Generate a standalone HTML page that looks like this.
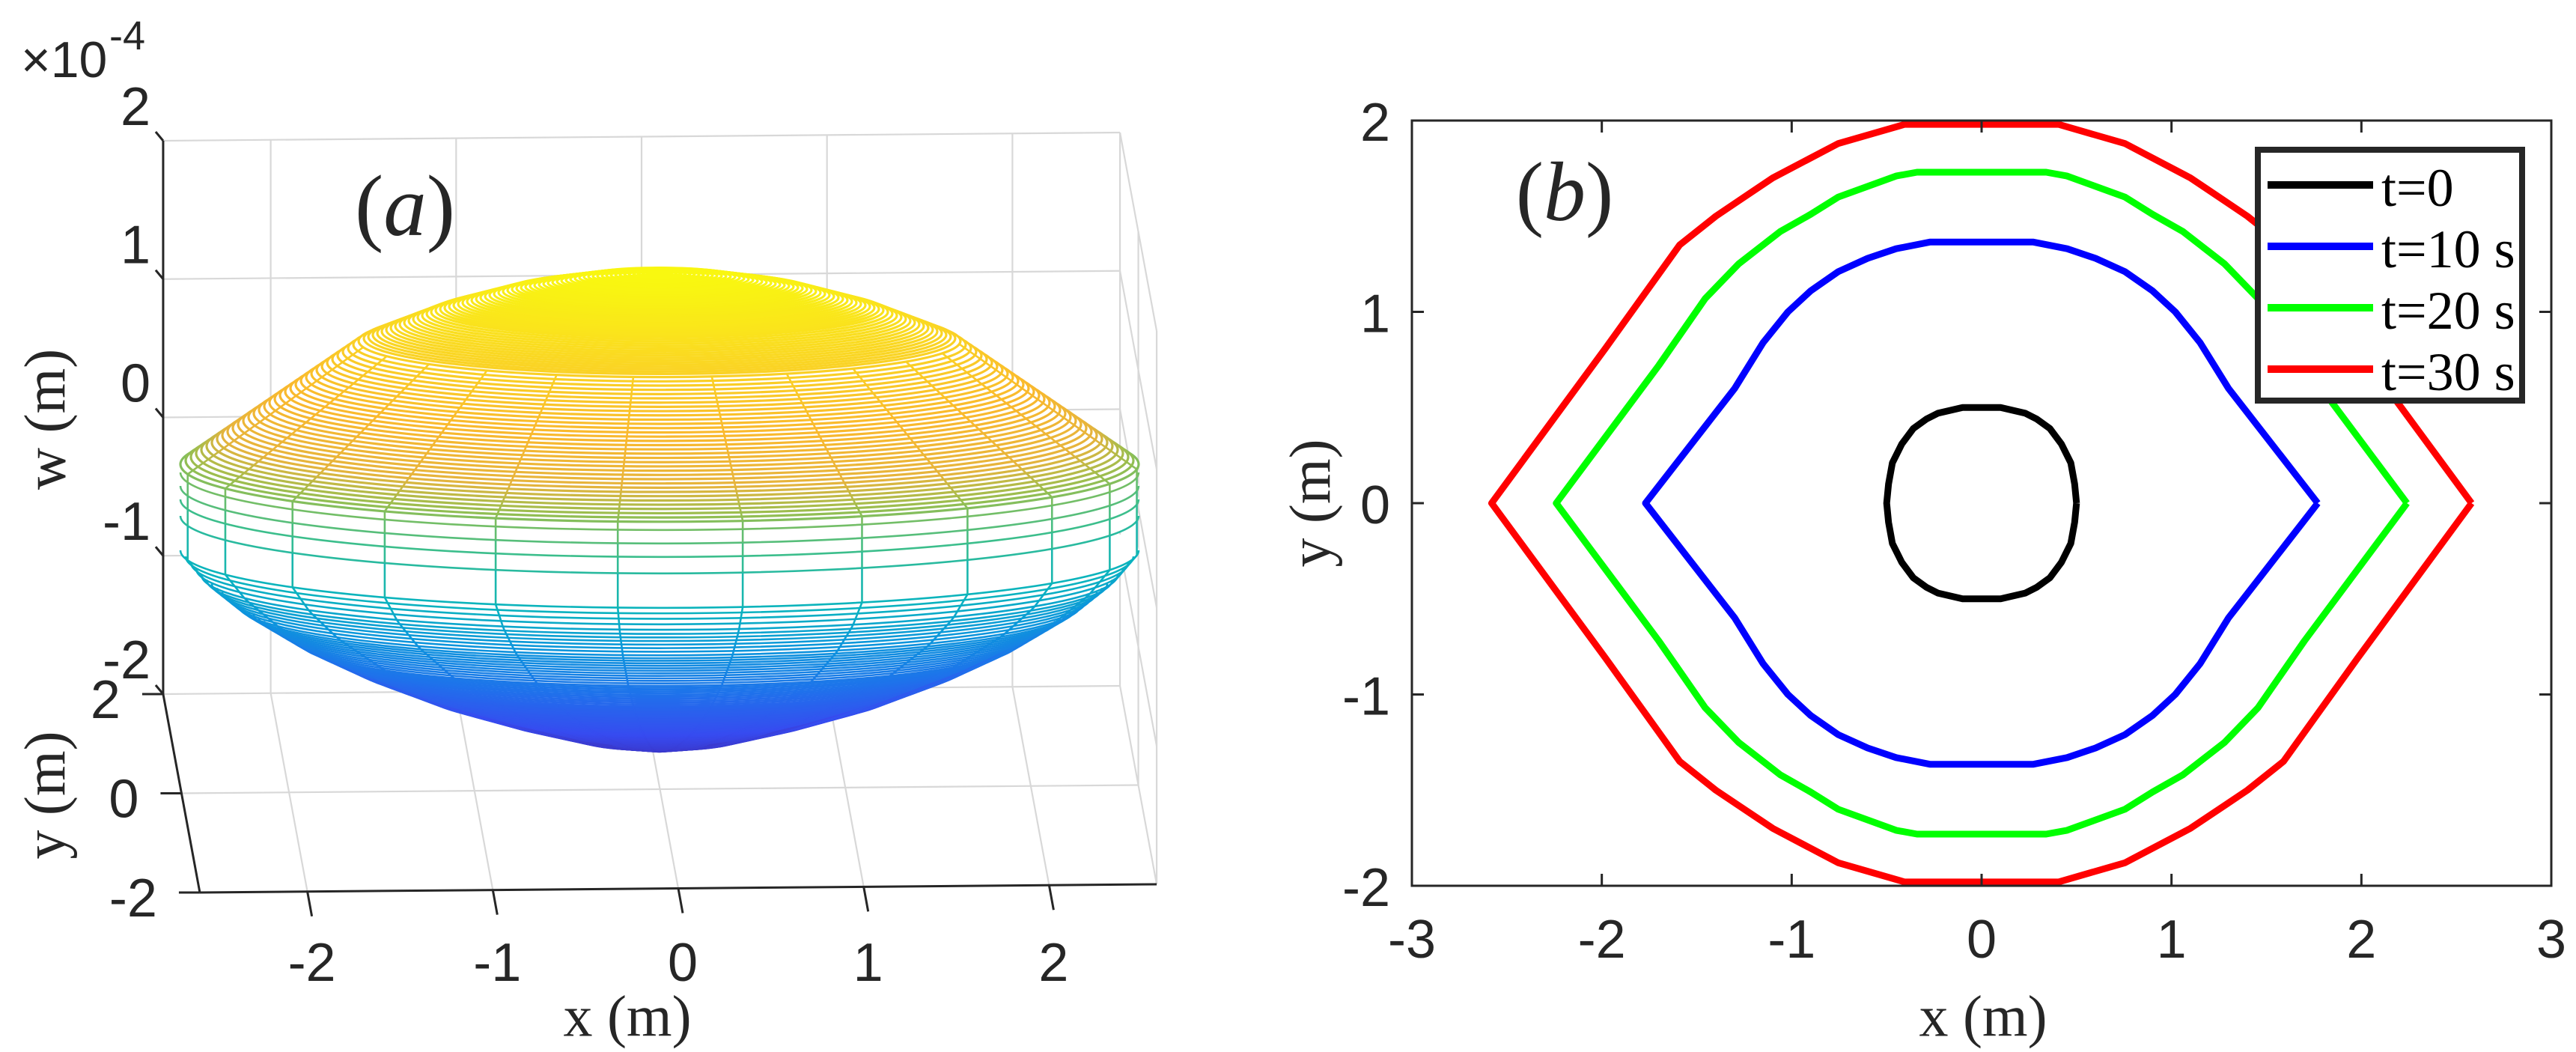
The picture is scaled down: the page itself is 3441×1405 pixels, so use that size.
<!DOCTYPE html>
<html><head><meta charset="utf-8"><style>
html,body{margin:0;padding:0;background:#fff;}
svg{display:block;}
</style></head><body>
<svg id="fig" width="3441" height="1405" viewBox="0 0 3441 1405" xmlns="http://www.w3.org/2000/svg">
<g id="panelA"></g>
<g id="panelB"></g>
</svg>
<script>
// ---------- Panel (b) data ----------
const xTicksB = [-3,-2,-1,0,1,2,3];
const yTicksB = [-2,-1,0,1,2];
const legendLabels = ["t=0","t=10 s","t=20 s","t=30 s"];
const seriesColors = ["#000000","#0000ff","#00ff00","#ff0000"];
const black_x = [0.50,0.49,0.47,0.42,0.36,0.29,0.23,0.10,-0.10,-0.23,-0.29,-0.36,-0.42,-0.47,-0.49,-0.50,-0.49,-0.47,-0.42,-0.36,-0.29,-0.23,-0.10,0.10,0.23,0.29,0.36,0.42,0.47,0.49,0.50];
const black_y = [0,0.10,0.21,0.31,0.39,0.44,0.47,0.50,0.50,0.47,0.44,0.39,0.31,0.21,0.10,0,-0.10,-0.21,-0.31,-0.39,-0.44,-0.47,-0.50,-0.50,-0.47,-0.44,-0.39,-0.31,-0.21,-0.10,0];
const blue_x = [1.77,1.30,1.15,1.02,0.90,0.755,0.60,0.45,0.27,-0.27,-0.45,-0.60,-0.755,-0.90,-1.02,-1.15,-1.30,-1.77,-1.30,-1.15,-1.02,-0.90,-0.755,-0.60,-0.45,-0.27,0.27,0.45,0.60,0.755,0.90,1.02,1.15,1.30,1.77];
const blue_y = [0,0.60,0.84,1.00,1.11,1.21,1.28,1.33,1.365,1.365,1.33,1.28,1.21,1.11,1.00,0.84,0.60,0,-0.60,-0.84,-1.00,-1.11,-1.21,-1.28,-1.33,-1.365,-1.365,-1.33,-1.28,-1.21,-1.11,-1.00,-0.84,-0.60,0];
const green_x = [2.24,1.70,1.455,1.28,1.06,0.90,0.755,0.45,0.34,-0.34,-0.45,-0.755,-0.90,-1.06,-1.28,-1.455,-1.70,-2.24,-1.70,-1.455,-1.28,-1.06,-0.90,-0.755,-0.45,-0.34,0.34,0.45,0.755,0.90,1.06,1.28,1.455,1.70,2.24];
const green_y = [0,0.72,1.07,1.25,1.42,1.51,1.60,1.71,1.73,1.73,1.71,1.60,1.51,1.42,1.25,1.07,0.72,0,-0.72,-1.07,-1.25,-1.42,-1.51,-1.60,-1.71,-1.73,-1.73,-1.71,-1.60,-1.51,-1.42,-1.25,-1.07,-0.72,0];
const red_x = [2.58,1.98,1.72,1.59,1.40,1.28,1.10,0.755,0.405,-0.405,-0.755,-1.10,-1.28,-1.40,-1.59,-1.72,-1.98,-2.58,-1.98,-1.72,-1.59,-1.40,-1.28,-1.10,-0.755,-0.405,0.405,0.755,1.10,1.28,1.40,1.59,1.72,1.98,2.58];
const red_y = [0,0.81,1.17,1.35,1.50,1.58,1.70,1.88,1.98,1.98,1.88,1.70,1.58,1.50,1.35,1.17,0.81,0,-0.81,-1.17,-1.35,-1.50,-1.58,-1.70,-1.88,-1.98,-1.98,-1.88,-1.70,-1.58,-1.50,-1.35,-1.17,-0.81,0];

// ---------- Panel (a) data ----------
const zTicksA = ["2","1","0","-1","-2"];
const yTicksA = ["2","0","-2"];
const xTicksA = [-2,-1,0,1,2];
const profA   = [0,100,200,300,400,520,640];
const profUp  = [364,369.6,386.5,414.6,454,537,620];
const profLoA = [0,100,200,300,400,480,560,610,640];
const profLo  = [1004,990,965,935,896,858,810,770,735];
const waistYc = [631,649,667,689];
const colYc = [358,454,520,580,620,690,738,800,900,1006];
const colV  = [1.0,0.86,0.78,0.70,0.58,0.46,0.40,0.30,0.16,0.04];

const NS="http://www.w3.org/2000/svg";
const SANS='"Liberation Sans", Arial, sans-serif';
const SERIF='"Liberation Serif", "Times New Roman", serif';
function mk(parent,tag,attrs){const e=document.createElementNS(NS,tag);for(const k in attrs)e.setAttribute(k,attrs[k]);parent.appendChild(e);return e;}
function txt(parent,attrs,serif){const e=mk(parent,'text',attrs);e.setAttribute('font-family',serif?SERIF:SANS);e.style.fontFamily=serif?SERIF:SANS;if(!attrs.fill)e.setAttribute('fill','#262626');return e;}
function interp(xs,ys,x){for(let i=0;i<xs.length-1;i++){const a=xs[i],b=xs[i+1];if((x>=a&&x<=b)||(x<=a&&x>=b)){const t=(x-a)/(b-a);return ys[i]+t*(ys[i+1]-ys[i]);}}return x<xs[0]?ys[0]:ys[ys.length-1];}

// ================= Panel B =================
(function(){
const g=document.getElementById('panelB');
const L=1886,R=3408,T=161,B=1183;
const sx=v=>L+(v+3)/6*(R-L);
const sy=v=>B-(v+2)/4*(B-T);
const plot=mk(g,'g',{});


const series=[[black_x,black_y],[blue_x,blue_y],[green_x,green_y],[red_x,red_y]];
const names=['curve-t0','curve-t10','curve-t20','curve-t30'];
series.forEach((s,i)=>{
  const d=s[0].map((x,j)=>(j?'L':'M')+sx(x).toFixed(1)+' '+sy(s[1][j]).toFixed(1)).join(' ');
  const p=mk(plot,'path',{d:d,fill:'none',stroke:seriesColors[i],'stroke-width':9,'stroke-linejoin':'round'});
  
  
});
const box=mk(g,'rect',{x:L,y:T,width:R-L,height:B-T,fill:'none',stroke:'#262626','stroke-width':3});


xTicksB.forEach(v=>{
  const x=sx(v);
  mk(g,'line',{x1:x,y1:B,x2:x,y2:B-16,stroke:'#262626','stroke-width':3});
  mk(g,'line',{x1:x,y1:T,x2:x,y2:T+16,stroke:'#262626','stroke-width':3});
  const t=txt(g,{x:x,y:1255,'text-anchor':'middle','dominant-baseline':'central','font-size':72});
  t.textContent=String(v);
  
  
});
yTicksB.forEach(v=>{
  const y=sy(v);
  mk(g,'line',{x1:L,y1:y,x2:L+16,y2:y,stroke:'#262626','stroke-width':3});
  mk(g,'line',{x1:R,y1:y,x2:R-16,y2:y,stroke:'#262626','stroke-width':3});
  const t=txt(g,{x:1857,y:y+3,'text-anchor':'end','dominant-baseline':'central','font-size':72});
  t.textContent=String(v);
  
  
});
let t=txt(g,{x:2649,y:1357,'text-anchor':'middle','dominant-baseline':'central','font-size':78},true);
t.textContent='x (m)';


t=txt(g,{x:1750,y:672,'text-anchor':'middle','dominant-baseline':'central','font-size':78,transform:'rotate(-90 1750 672)'},true);
t.textContent='y (m)';


t=txt(g,{x:2090,y:257,'text-anchor':'middle','dominant-baseline':'central','font-size':112},true);
t.innerHTML='(<tspan font-style="italic">b</tspan>)';


const lg=mk(g,'g',{});


mk(lg,'rect',{x:3016,y:200,width:353,height:335,fill:'#fff',stroke:'#262626','stroke-width':8});
legendLabels.forEach((lab,i)=>{
  const y=247+i*82;
  const e=mk(lg,'g',{});
  
  
  mk(e,'line',{x1:3029,y1:y,x2:3170,y2:y,stroke:seriesColors[i],'stroke-width':10});
  const tt=txt(e,{x:3181,y:y+4,'dominant-baseline':'central','font-size':72,fill:'#000'},true);
  tt.textContent=lab;
});
})();

// ================= Panel A =================
(function(){
const g=document.getElementById('panelA');
const O=[881.5,684.5], ex=[247.7,-2.13], ey=[-12.25,-66.25], ez=[0,-184.75];
const XL=2.58;
const P=(x,y,z)=>[O[0]+x*ex[0]+y*ey[0]+z*ez[0], O[1]+x*ex[1]+y*ey[1]+z*ez[1]];
const grid=mk(g,'g',{stroke:'#d8d8d8','stroke-width':2.2,fill:'none'});


const ln=(p,q,par,attrs)=>mk(par||grid,'line',Object.assign({x1:p[0],y1:p[1],x2:q[0],y2:q[1]},attrs||{}));
xTicksA.forEach(x=>ln(P(x,2,-2),P(x,2,2)));
[-1,0,1].forEach(z=>ln(P(-XL,2,z),P(XL,2,z)));
ln(P(-XL,2,2),P(XL,2,2));ln(P(XL,2,-2),P(XL,2,2));ln(P(-XL,2,-2),P(XL,2,-2));
xTicksA.forEach(x=>ln(P(x,-2,-2),P(x,2,-2)));
ln(P(-XL,0,-2),P(XL,0,-2));
[-1,0,1].forEach(z=>ln(P(XL,-2,z),P(XL,2,z)));
ln(P(XL,0,-2),P(XL,0,2));
ln(P(XL,-2,2),P(XL,2,2));ln(P(XL,-2,-2),P(XL,-2,2));ln(P(XL,-2,-2),P(XL,2,-2));

const surf=mk(g,'g',{});


const cx=881, k=0.12;
const stops=[[0,62,38,168],[0.1,55,75,240],[0.2,30,115,235],[0.3,12,150,220],[0.4,10,180,190],[0.5,60,190,140],[0.6,150,190,80],[0.7,230,180,60],[0.78,250,185,45],[0.88,250,215,35],[1,249,251,14]];
function parula(v){v=Math.max(0,Math.min(1,v));for(let i=0;i<stops.length-1;i++){if(v<=stops[i+1][0]){const t=(v-stops[i][0])/(stops[i+1][0]-stops[i][0]);const c=[1,2,3].map(j=>Math.round(stops[i][j]+t*(stops[i+1][j]-stops[i][j])));return 'rgb('+c.join(',')+')';}}return 'rgb(249,251,14)';}
const colOf=yc=>parula(interp(colYc,colV,yc));
const upper=[],lower=[];
for(let a=640;a>=4;a-=(a>400?7:6)) upper.push([a,interp(profA,profUp,a)]);
for(let a=4;a<=640;a+=(a<300?5:7)) lower.push([a,interp(profLoA,profLo,a)]);
const waist=waistYc.map(y=>[640,y]);
const body=mk(surf,'g',{fill:'#fff',stroke:'none'});
upper.concat(lower,waist).forEach(r=>mk(body,'ellipse',{cx:cx,cy:r[1],rx:r[0],ry:k*r[0]}));
const arc=(r)=>{const a=r[0],y=r[1];return 'M'+(cx-a)+' '+y+' A'+a+' '+(k*a)+' 0 0 0 '+(cx+a)+' '+y;};
lower.concat(waist).forEach(r=>{
  mk(surf,'path',{d:arc(r),fill:'none',stroke:colOf(r[1]),'stroke-width':2.6});
});
const merRings=upper.filter(r=>r[0]>=400).concat(waist,lower.filter(r=>r[0]>=60));
merRings.sort((p,q)=>p[1]-q[1]);
upper.forEach(r=>{
  mk(surf,'ellipse',{cx:cx,cy:r[1],rx:r[0],ry:k*r[0],fill:'#fff',stroke:colOf(r[1]),'stroke-width':3.2});
});
for(let deg=5;deg<180;deg+=15){
  const ph=deg*Math.PI/180;
  for(let i=0;i<merRings.length-1;i++){
    const r1=merRings[i],r2=merRings[i+1];
    const p1=[cx+r1[0]*Math.cos(ph),r1[1]+k*r1[0]*Math.sin(ph)];
    const p2=[cx+r2[0]*Math.cos(ph),r2[1]+k*r2[0]*Math.sin(ph)];
    mk(surf,'line',{x1:p1[0],y1:p1[1],x2:p2[0],y2:p2[1],stroke:colOf((r1[1]+r2[1])/2),'stroke-width':2.6});
  }
}
const ax=mk(g,'g',{stroke:'#262626','stroke-width':3});


ln(P(-XL,2,-2),P(-XL,2,2),ax);
ln(P(-XL,2,-2),P(-XL,-2,-2),ax);
ln(P(-XL,-2,-2),P(XL,-2,-2),ax);
zTicksA.forEach((s,i)=>{
  const z=2-i; const p=P(-XL,2,z);
  ln(p,[p[0]-10,p[1]-12],ax);
  const t=txt(g,{x:201,y:p[1]-45,'text-anchor':'end','dominant-baseline':'central','font-size':72});
  t.textContent=s;
  
  
});
yTicksA.forEach(s=>{
  const v=Number(s); const p=P(-XL,v,-2);
  ln(p,[p[0]-28,p[1]],ax);
  const t=txt(g,{x:p[0]-57,y:p[1]+8,'text-anchor':'end','dominant-baseline':'central','font-size':72});
  t.textContent=s;
  
  
});
xTicksA.forEach(v=>{
  const p=P(v,-2,-2);
  ln(p,[p[0]+6,p[1]+33],ax);
  const t=txt(g,{x:p[0]+6,y:1286,'text-anchor':'middle','dominant-baseline':'central','font-size':72});
  t.textContent=String(v);
  
  
});
let t=txt(g,{x:838,y:1357,'text-anchor':'middle','dominant-baseline':'central','font-size':78},true);
t.textContent='x (m)';


t=txt(g,{x:60,y:1062,'text-anchor':'middle','dominant-baseline':'central','font-size':78,transform:'rotate(-90 60 1062)'},true);
t.textContent='y (m)';


t=txt(g,{x:60,y:560,'text-anchor':'middle','dominant-baseline':'central','font-size':78,transform:'rotate(-90 60 560)'},true);
t.textContent='w (m)';


t=txt(g,{x:28,y:80,'dominant-baseline':'central','font-size':68});
t.textContent='×10';


t=txt(g,{x:146,y:48,'dominant-baseline':'central','font-size':54});
t.textContent='-4';


t=txt(g,{x:541,y:275,'text-anchor':'middle','dominant-baseline':'central','font-size':115},true);
t.innerHTML='(<tspan font-style="italic">a</tspan>)';


})();
</script>
</body></html>
